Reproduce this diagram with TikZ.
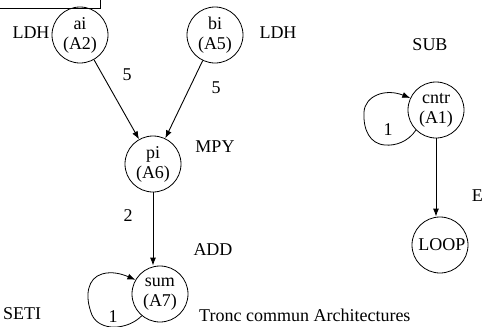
\documentclass[tikz,border=0pt]{standalone}
\usepackage{fontspec}
\setmainfont{Liberation Serif}
\usetikzlibrary{arrows.meta}
\begin{document}
\begin{tikzpicture}[x=1pt,y=-1pt,
  font=\fontsize{18}{21}\selectfont,
  state/.style={draw,circle,line width=0.8pt,minimum size=56pt,inner sep=0pt,align=center},
  edge/.style={line width=0.9pt,-{Latex[length=8pt,width=6pt]}},
  loopedge/.style={line width=0.8pt,-{Latex[length=8pt,width=6pt]}},
  lbl/.style={inner sep=0pt}]
\useasboundingbox (0,0) rectangle (483,327);
\clip (0,0) rectangle (483,327);
\draw[line width=0.8pt] (-5,-5) rectangle (100,8);
% nodes
\node[state] (ai) at (80,35) {ai\\[-1pt](A2)};
\node[state] (bi) at (215,35) {bi\\[-1pt](A5)};
\node[state] (pi) at (153,164) {pi\\[-1pt](A6)};
\node[state] (sum) at (160,294) {sum\\[-1pt](A7)};
\node[state] (cntr) at (436,110) {cntr\\[-1pt](A1)};
\node[state] (loop) at (440,245) {\hspace*{4pt}LOOP};
% labels
\node[lbl] (l1) at (31,33) {LDH};
\node[lbl] (l2) at (278,33) {LDH};
\node[lbl] (f1) at (127,75) {5};
\node[lbl] (f2) at (216,88) {5};
\node[lbl] (mpy) at (215,147) {MPY};
\node[lbl] (two) at (128,216) {2};
\node[lbl] (add) at (213,250) {ADD};
\node[lbl] (sub) at (430,45) {SUB};
\node[lbl,anchor=east] (e) at (483,196) {E};
\node[lbl] (seti) at (22,314) {SETI};
\node[lbl,anchor=west] (tc) at (199,315) {Tronc commun Architectures};
\node[lbl] (o1) at (113,317) {1};
\node[lbl] (o2) at (388,130) {1};
% edges
\draw[edge] (ai) -- (pi);
\draw[edge] (bi) -- (pi);
\draw[edge] (pi.south) -- (pi.south |- sum.north);
\draw[edge] (cntr.south) -- (cntr.south |- loop.north);
\draw[loopedge] (sum.230) .. controls (128,330) and (100,332) .. (92,315)
  .. controls (84,295) and (88,278) .. (102,274)
  .. controls (112,271) and (122,274) .. (sum.150);
\draw[loopedge] (cntr.225) .. controls (408,142) and (395,146) .. (385,145)
  .. controls (370,144) and (363,130) .. (364,112)
  .. controls (365,96) and (385,88) .. (cntr.155);
\end{tikzpicture}
\end{document}
